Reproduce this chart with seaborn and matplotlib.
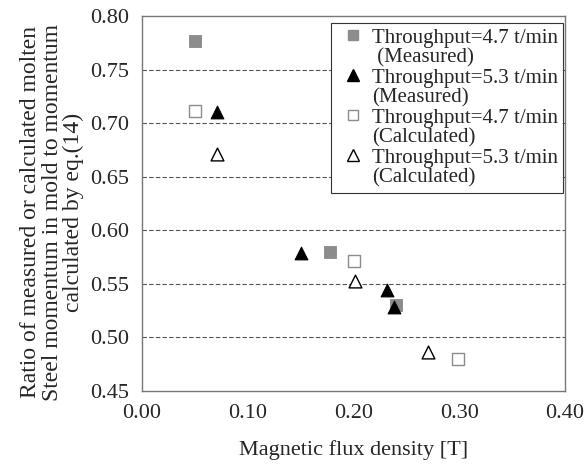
import pandas as pd
import matplotlib
matplotlib.use("Agg")
import matplotlib.pyplot as plt
from matplotlib.lines import Line2D
import seaborn as sns

sns.set_style("white")
plt.rcParams['font.family'] = ['Liberation Serif', 'DejaVu Serif']

# 数据
meas_47_x = [0.050, 0.178, 0.240]
meas_47_y = [0.777, 0.580, 0.530]
meas_53_x = [0.071, 0.150, 0.232, 0.238]
meas_53_y = [0.710, 0.579, 0.544, 0.528]
calc_47_x = [0.050, 0.200, 0.299]
calc_47_y = [0.711, 0.571, 0.480]
calc_53_x = [0.071, 0.201, 0.270]
calc_53_y = [0.671, 0.553, 0.486]

labels = ['Throughput=4.7 t/min', 'Throughput=5.3 t/min',
          'Throughput=4.7 t/min', 'Throughput=5.3 t/min']
sublabels = [' (Measured)', '(Measured)', '(Calculated)', '(Calculated)']

fig = plt.figure(figsize=(5.84, 4.65), dpi=100)
ax = fig.add_axes([142 / 584, 1 - 391 / 465, 423 / 584, 375 / 465])

for y in [0.50, 0.55, 0.60, 0.65, 0.70, 0.75]:
    ax.axhline(y, color='#555555', lw=0.8, ls=(0, (4, 2)), zorder=0)

sns.scatterplot(x=meas_47_x, y=meas_47_y, ax=ax, marker='s', s=64,
                color='#8c8c8c', edgecolor='#8c8c8c', zorder=3)
sns.scatterplot(x=meas_53_x, y=meas_53_y, ax=ax, marker='^', s=85,
                color='black', edgecolor='black', zorder=3)
sns.scatterplot(x=calc_47_x, y=calc_47_y, ax=ax, marker='s', s=64,
                color='white', edgecolor='#8c8c8c', linewidth=1.0, zorder=3)
sns.scatterplot(x=calc_53_x, y=calc_53_y, ax=ax, marker='^', s=85,
                color='white', edgecolor='black', linewidth=1.0, zorder=3)

ax.set_xlim(0, 0.40)
ax.set_ylim(0.45, 0.80)
ax.set_xticks([0.0, 0.1, 0.2, 0.3, 0.4])
ax.set_xticklabels(['0.00', '0.10', '0.20', '0.30', '0.40'])
ax.set_yticks([0.45, 0.50, 0.55, 0.60, 0.65, 0.70, 0.75, 0.80])
ax.set_yticklabels(['0.45', '0.50', '0.55', '0.60', '0.65', '0.70', '0.75', '0.80'])
ax.tick_params(axis='x', direction='in', length=5, color='#555555', labelsize=16, pad=9)
ax.tick_params(axis='y', direction='in', length=0, labelsize=16, pad=9)
for sp in ax.spines.values():
    sp.set_color('#777777')
    sp.set_linewidth(1.0)

ax.set_xlabel('Magnetic flux density [T]', fontsize=16, labelpad=13)
ax.set_ylabel('Ratio of measured or calculated molten\nSteel momentum in mold to momentum\ncalculated by eq.(14)',
              fontsize=17, linespacing=1.02)
ax.yaxis.set_label_coords(-0.137, 0.477)

# 图例：标记对齐第一行
styles = [dict(marker='s', markerfacecolor='#8c8c8c', markeredgecolor='#8c8c8c', markersize=7),
          dict(marker='^', markerfacecolor='black', markeredgecolor='black', markersize=9),
          dict(marker='s', markerfacecolor='white', markeredgecolor='#8c8c8c', markersize=7),
          dict(marker='^', markerfacecolor='white', markeredgecolor='black', markersize=9)]
handles, texts = [], []
for st, lab, sub in zip(styles, labels, sublabels):
    handles.append(Line2D([], [], ls='none', **st))
    texts.append(lab)
    handles.append(Line2D([], [], ls='none', marker=None))
    texts.append(sub)

leg = ax.legend(handles, texts, loc='upper right', bbox_to_anchor=(0.995, 0.982), fontsize=15,
                frameon=True, fancybox=False, edgecolor='#333333', framealpha=1,
                handletextpad=0.1, handlelength=1.6, borderpad=0.25, labelspacing=0.02,
                borderaxespad=0.0)
leg.get_frame().set_linewidth(0.8)

fig.savefig('out.png', dpi=100)
